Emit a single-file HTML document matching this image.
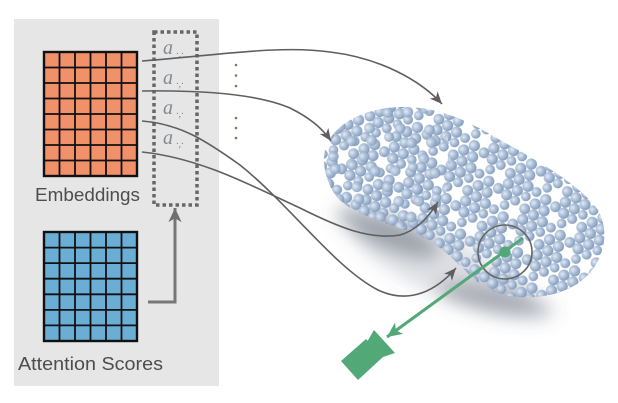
<!DOCTYPE html>
<html><head><meta charset="utf-8"><style>
html,body{margin:0;padding:0;background:#fff;}
svg{display:block;}
</style></head><body>
<svg width="618" height="403" viewBox="0 0 618 403" xmlns="http://www.w3.org/2000/svg">
<defs>
  <radialGradient id="sph" cx="0.4" cy="0.35" r="0.68">
    <stop offset="0" stop-color="#e2eaf4"/>
    <stop offset="0.5" stop-color="#aabed7"/>
    <stop offset="1" stop-color="#7f97b7"/>
  </radialGradient>
  <pattern id="pts" patternUnits="userSpaceOnUse" width="46" height="38.4" patternTransform="rotate(-22)">
    <g fill="url(#sph)">
      <circle cx="5.75" cy="5.6" r="5.6"/><circle cx="17.25" cy="5.6" r="5.6"/><circle cx="40.25" cy="6.2" r="5.4"/>
      <circle cx="0" cy="15.2" r="5.6"/><circle cx="46" cy="15.2" r="5.6"/><circle cx="11.5" cy="15.2" r="5.6"/><circle cx="23.5" cy="15.8" r="5.4"/><circle cx="34.5" cy="15.2" r="5.6"/>
      <circle cx="5.75" cy="24.8" r="5.6"/><circle cx="28.75" cy="24.8" r="5.6"/><circle cx="40.25" cy="24.8" r="5.6"/>
      <circle cx="0" cy="33.6" r="4.8"/><circle cx="46" cy="33.6" r="4.8"/><circle cx="11.5" cy="33.4" r="5"/><circle cx="23" cy="33.6" r="4.8"/><circle cx="34.5" cy="33.4" r="5"/>
    </g>
  </pattern>
  <pattern id="pts2" patternUnits="userSpaceOnUse" width="46" height="38.4" patternTransform="translate(9,11) rotate(-38)">
    <g fill="url(#sph)">
      <circle cx="6" cy="6" r="5.4"/><circle cx="28" cy="7" r="5.4"/>
      <circle cx="22" cy="18" r="5.4"/><circle cx="6" cy="26" r="5.4"/><circle cx="38" cy="26" r="5"/>
    </g>
  </pattern>
  <clipPath id="blob">
    <path d="M325,150 C330,128 360,108 400,107 C440,106 470,122 500,140 C540,162 580,185 598,210 C612,235 602,268 577,284 C552,300 512,302 486,288 C466,276 452,252 424,238 C394,224 352,216 336,196 C326,182 322,165 325,150 Z"/>
  </clipPath>
  <clipPath id="blobTL">
    <path d="M322,140 C330,115 370,100 420,108 C450,115 460,160 440,210 C420,240 360,225 335,200 Z"/>
  </clipPath>
  <filter id="blur" x="-50%" y="-50%" width="200%" height="200%"><feGaussianBlur stdDeviation="9"/></filter>
  <marker id="ah" viewBox="-1 -7 17 14" refX="14" refY="0" markerWidth="15" markerHeight="13" markerUnits="userSpaceOnUse" orient="auto">
    <path d="M0,-6 L14,0 L0,6 L4,0 Z" fill="#5f5f5f"/>
  </marker>
  <marker id="ah2" viewBox="-1 -8 18 16" refX="15" refY="0" markerWidth="17" markerHeight="16" markerUnits="userSpaceOnUse" orient="auto">
    <path d="M0,-7 L15,0 L0,7 L4,0 Z" fill="#707070"/>
  </marker>
  <marker id="ahg" viewBox="-1 -8 18 16" refX="15" refY="0" markerWidth="18" markerHeight="16" markerUnits="userSpaceOnUse" orient="auto">
    <path d="M0,-7 L15,0 L0,7 L4,0 Z" fill="#52a877"/>
  </marker>
</defs>

<!-- gray panel -->
<rect x="14" y="19" width="205" height="367" fill="#e6e6e6"/>

<!-- orange grid -->
<g>
  <rect x="44" y="52" width="93" height="124" fill="#f0916a" stroke="#111" stroke-width="2.4"/>
  <g stroke="#111" stroke-width="1.8">
    <line x1="59.5" y1="52" x2="59.5" y2="176"/><line x1="75" y1="52" x2="75" y2="176"/>
    <line x1="90.5" y1="52" x2="90.5" y2="176"/><line x1="106" y1="52" x2="106" y2="176"/>
    <line x1="121.5" y1="52" x2="121.5" y2="176"/>
    <line x1="44" y1="67.5" x2="137" y2="67.5"/><line x1="44" y1="83" x2="137" y2="83"/>
    <line x1="44" y1="98.5" x2="137" y2="98.5"/><line x1="44" y1="114" x2="137" y2="114"/>
    <line x1="44" y1="129.5" x2="137" y2="129.5"/><line x1="44" y1="145" x2="137" y2="145"/>
    <line x1="44" y1="160.5" x2="137" y2="160.5"/>
  </g>
</g>

<!-- blue grid -->
<g>
  <rect x="44" y="232" width="93" height="109" fill="#6aaed5" stroke="#111" stroke-width="2.4"/>
  <g stroke="#111" stroke-width="1.8">
    <line x1="59.5" y1="232" x2="59.5" y2="341"/><line x1="75" y1="232" x2="75" y2="341"/>
    <line x1="90.5" y1="232" x2="90.5" y2="341"/><line x1="106" y1="232" x2="106" y2="341"/>
    <line x1="121.5" y1="232" x2="121.5" y2="341"/>
    <line x1="44" y1="247.6" x2="137" y2="247.6"/><line x1="44" y1="263.1" x2="137" y2="263.1"/>
    <line x1="44" y1="278.7" x2="137" y2="278.7"/><line x1="44" y1="294.3" x2="137" y2="294.3"/>
    <line x1="44" y1="309.9" x2="137" y2="309.9"/><line x1="44" y1="325.4" x2="137" y2="325.4"/>
  </g>
</g>

<!-- labels -->
<text x="35" y="201" font-family="Liberation Sans, DejaVu Sans, sans-serif" font-size="18" fill="#4d4d4d" textLength="105" lengthAdjust="spacingAndGlyphs">Embeddings</text>
<text x="18" y="370" font-family="Liberation Sans, DejaVu Sans, sans-serif" font-size="18" fill="#4d4d4d" textLength="145" lengthAdjust="spacingAndGlyphs">Attention Scores</text>

<!-- dotted box -->
<rect x="154" y="32" width="43" height="173" fill="none" stroke="#666" stroke-width="3.5" stroke-dasharray="3.5 3"/>

<!-- a labels -->
<g font-family="Liberation Serif, DejaVu Serif, serif" font-style="italic" fill="#858a90">
  <text x="163" y="54" font-size="20">a</text><text x="176" y="57" font-size="10">·,·</text>
  <text x="163" y="84" font-size="20">a</text><text x="176" y="87" font-size="10">·,·</text>
  <text x="163" y="114" font-size="20">a</text><text x="176" y="117" font-size="10">·,·</text>
  <text x="163" y="144" font-size="20">a</text><text x="176" y="147" font-size="10">·,·</text>
</g>

<!-- vertical dots -->
<g fill="#857565">
  <circle cx="236" cy="65" r="1.3"/><circle cx="236" cy="75.5" r="1.3"/><circle cx="236" cy="86" r="1.3"/>
  <circle cx="236" cy="118" r="1.3"/><circle cx="236" cy="128" r="1.3"/><circle cx="236" cy="138" r="1.3"/>
</g>

<!-- attention arrow -->
<polyline points="148,302 175,302 175,208" fill="none" stroke="#777" stroke-width="3" marker-end="url(#ah2)"/>

<!-- shadow -->
<g filter="url(#blur)" fill="#5a6273">
  <ellipse cx="388" cy="232" rx="55" ry="16" transform="rotate(22 388 232)" opacity="0.5"/>
  <ellipse cx="495" cy="300" rx="60" ry="13" transform="rotate(12 495 300)" opacity="0.42"/>
  <ellipse cx="445" cy="268" rx="100" ry="28" transform="rotate(24 445 268)" opacity="0.2"/>
</g>

<!-- point cloud -->
<g clip-path="url(#blob)">
  <rect x="300" y="90" width="320" height="230" fill="url(#pts)"/>
  <rect x="300" y="90" width="320" height="230" fill="url(#pts2)" clip-path="url(#blobTL)" opacity="0.9"/>
</g>

<!-- curves -->
<g fill="none" stroke="#5f5f5f" stroke-width="1.6">
  <path d="M142,61 C220,55 280,45 330,52 C380,58 420,80 442,104" marker-end="url(#ah)"/>
  <path d="M142,91 C210,90 260,95 290,108 C310,118 322,128 331,141" marker-end="url(#ah)"/>
  <path d="M142,121 C180,124 205,140 240,165 C290,205 335,268 378,290 C410,305 437,290 456,268" marker-end="url(#ah)"/>
  <path d="M142,152 C200,158 250,185 300,208 C340,228 370,240 400,235 C418,230 430,215 438,202" marker-end="url(#ah)"/>
</g>

<!-- circle & green ray -->
<circle cx="505" cy="252" r="27" fill="none" stroke="#666" stroke-width="1.6"/>
<line x1="523" y1="238" x2="387" y2="337" stroke="#52a877" stroke-width="3" marker-end="url(#ahg)"/>
<circle cx="505" cy="252" r="5.5" fill="#52a877"/>

<!-- camera -->
<g fill="#52a877">
  <polygon points="341,361 366,339 383,357 358,380"/>
  <polygon points="367,342 374,330 395,353 383,357"/>
</g>
</svg>
</body></html>
